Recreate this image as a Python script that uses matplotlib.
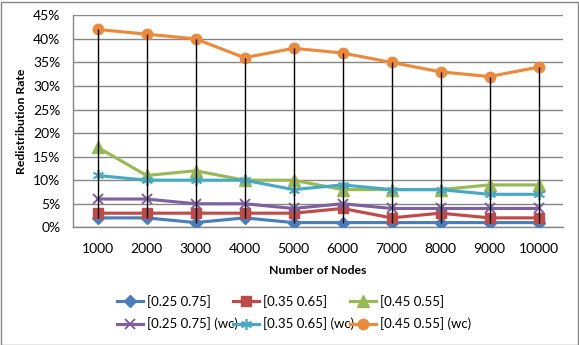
import matplotlib
matplotlib.use("Agg")
import matplotlib.pyplot as plt
from matplotlib.ticker import FuncFormatter
import numpy as np

categories = ["1000", "2000", "3000", "4000", "5000", "6000", "7000", "8000", "9000", "10000"]
s_025 = [2, 2, 1, 2, 1, 1, 1, 1, 1, 1]
s_035 = [3, 3, 3, 3, 3, 4, 2, 3, 2, 2]
s_045 = [17, 11, 12, 10, 10, 8, 8, 8, 9, 9]
s_025_wc = [6, 6, 5, 5, 4, 5, 4, 4, 4, 4]
s_035_wc = [11, 10, 10, 10, 8, 9, 8, 8, 7, 7]
s_045_wc = [42, 41, 40, 36, 38, 37, 35, 33, 32, 34]
labels = ["[0.25 0.75]", "[0.35 0.65]", "[0.45 0.55]",
          "[0.25 0.75] (wc)", "[0.35 0.65] (wc)", "[0.45 0.55] (wc)"]
yticks = [0, 5, 10, 15, 20, 25, 30, 35, 40, 45]

series = [s_025, s_035, s_045, s_025_wc, s_035_wc, s_045_wc]
colors = ["#4A7EBB", "#BE4B48", "#98B954", "#7D60A0", "#46AAC5", "#EC8A3C"]
markers = ["D", "s", "^", "x", "star", "o"]
msizes = [6, 7.5, 8, 7, 8, 7.5]

plt.rcParams['font.family'] = ['Lato', 'DejaVu Sans']

W, H = 579, 345
fig = plt.figure(figsize=(W / 100, H / 100), dpi=100)
fig.patch.set_facecolor("white")
fig.add_artist(plt.Rectangle((0.5 / W, 0.5 / H), 1 - 2 / W, 1 - 2 / H,
                             transform=fig.transFigure, fill=False,
                             edgecolor="#868686", linewidth=1.0))

left, right, top, bottom = 73, 563, 15.3, 227.3
pw, ph = right - left, bottom - top
ax = fig.add_axes([left / W, 1 - bottom / H, pw / W, ph / H])

x = np.arange(len(categories))
ax.set_xlim(-0.5, len(categories) - 0.5)
ax.set_ylim(0, 45)
ax.set_yticks(yticks)
ax.yaxis.set_major_formatter(FuncFormatter(lambda v, p: f"{int(round(v))}%"))
ax.set_xticks(x)
ax.set_xticklabels(categories)
ax.grid(axis="y", color="#868686", linewidth=1.0)
ax.set_axisbelow(True)
for s in ["top", "right"]:
    ax.spines[s].set_visible(False)
for s in ["left", "bottom"]:
    ax.spines[s].set_color("#868686")
    ax.spines[s].set_linewidth(1.0)
ax.tick_params(axis="both", length=0, labelsize=10, colors="black")
ax.tick_params(axis="x", pad=11)
ax.tick_params(axis="y", pad=9)

handles = []
for vals, c, m, ms in zip(series, colors, markers, msizes):
    if m == "star":
        (h,) = ax.plot(x, vals, color=c, linewidth=2.25, marker=(6, 2, 0), markersize=ms,
                       markeredgewidth=1.2, markeredgecolor=c, zorder=3)
    else:
        mew = 1.4 if m == "x" else 1.0
        (h,) = ax.plot(x, vals, color=c, linewidth=2.25, marker=m, markersize=ms,
                       markeredgewidth=mew, markeredgecolor=c, markerfacecolor=c,
                       zorder=3)
    handles.append(h)

arr = np.array(series)
ax.vlines(x, arr.min(axis=0), arr.max(axis=0), color="black", linewidth=1.0, zorder=4)

ax.set_xlabel("Number of Nodes", fontsize=8.8, fontweight="bold")
ax.set_ylabel("Redistribution Rate", fontsize=8.8, fontweight="bold")
ax.xaxis.set_label_coords(0.5, -(265 - bottom) / ph)
ax.yaxis.set_label_coords((27 - left) / pw, 0.5)

col_x = [117, 233, 350]
for ci, cx in enumerate(col_x):
    hs = [handles[ci], handles[ci + 3]]
    ls = [labels[ci], labels[ci + 3]]
    fig.legend(handles=hs, labels=ls, loc="center left",
               bbox_to_anchor=(cx / W, 1 - 312.5 / H), frameon=False, fontsize=9.5,
               handlelength=2.0, handletextpad=0.25, labelspacing=0.75,
               borderpad=0, borderaxespad=0)

fig.savefig("out.png", dpi=100)
